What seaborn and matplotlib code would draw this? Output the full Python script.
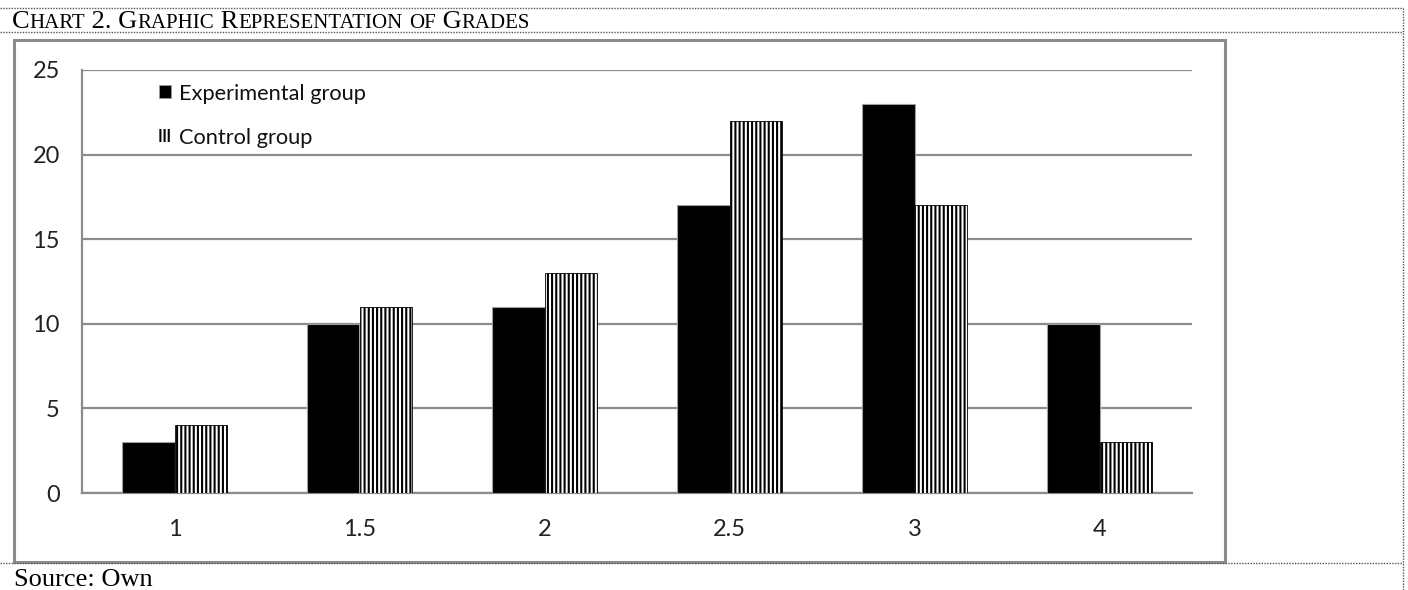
import matplotlib
matplotlib.use("Agg")
import matplotlib.pyplot as plt
from matplotlib.lines import Line2D
from matplotlib.patches import Rectangle, Patch
import seaborn as sns
import pandas as pd

grades = ["1", "1.5", "2", "2.5", "3", "4"]
experimental = [3, 10, 11, 17, 23, 10]
control = [4, 11, 13, 22, 17, 3]
series_names = ["Experimental group", "Control group"]
y_ticks = [0, 5, 10, 15, 20, 25]

df = pd.DataFrame({
    "grade": grades * 2,
    "count": experimental + control,
    "group": [series_names[0]] * len(grades) + [series_names[1]] * len(grades),
})

sns.set_theme(style="white")
plt.rcParams["font.family"] = ["Lato", "DejaVu Sans"]
plt.rcParams["hatch.linewidth"] = 1.5
plt.rcParams["hatch.color"] = "black"

W, H = 1408, 590
fig = plt.figure(figsize=(W / 100, H / 100), dpi=100)
fig.patch.set_facecolor("white")

def fx(px):
    return px / W

def fy(py):
    return 1 - py / H

ax = fig.add_axes([fx(82), fy(493), fx(1192) - fx(82), fy(70) - fy(493)])

grey = "#8c8c8c"
sns.barplot(data=df, x="grade", y="count", hue="group", order=grades,
            hue_order=series_names, palette=["black", "white"],
            width=0.57, gap=0, edgecolor="#a0a0a0", linewidth=0.8,
            errorbar=None, ax=ax, zorder=3, legend=False)

# vertical-stripe fill for the control group
for bar in ax.containers[1]:
    bar.set_hatch("||||")
    bar.set_edgecolor("black")
    bar.set_linewidth(0.6)

ax.set_xlim(-0.5, len(grades) - 0.5)
ax.set_ylim(0, 25)
ax.set_yticks(y_ticks)
ax.set_yticklabels([str(v) for v in y_ticks])
ax.set_xticks(range(len(grades)))
ax.set_xticklabels(grades)
ax.set_xticks([i - 0.5 for i in range(len(grades) + 1)], minor=True)
ax.tick_params(axis="x", which="major", length=0, pad=19, labelsize=17,
               labelcolor="#222222")
ax.tick_params(axis="x", which="minor", length=7, width=2, color=grey,
               direction="out")
ax.tick_params(axis="y", which="major", length=5, width=2, color=grey,
               direction="out", pad=11, labelsize=17, labelcolor="#222222")
ax.set_xlabel("")
ax.set_ylabel("")
ax.grid(axis="y", color=grey, linewidth=1.6, zorder=0)
ax.set_axisbelow(True)
for s in ["top", "right"]:
    ax.spines[s].set_visible(False)
for s in ["left", "bottom"]:
    ax.spines[s].set_color(grey)
    ax.spines[s].set_linewidth(1.6)

handles = [
    Patch(facecolor="black", edgecolor="#a0a0a0", linewidth=0.5),
    Patch(facecolor="white", edgecolor="black", linewidth=0.0, hatch="||||"),
]
leg = ax.legend(handles, series_names, loc="upper left",
                bbox_to_anchor=((159 - 82) / (1192 - 82), 0.968),
                frameon=False, fontsize=15.7, handlelength=0.55,
                handleheight=0.55, handletextpad=0.35, labelspacing=1.1,
                borderpad=0, borderaxespad=0)
for t in leg.get_texts():
    t.set_color("#111111")

# outer chart frame
fig.patches.append(Rectangle((fx(14), fy(562)), fx(1225) - fx(14),
                             fy(40) - fy(562), transform=fig.transFigure,
                             fill=False, edgecolor=grey, linewidth=2.2))

# dotted table rules
dot = dict(color="#555555", linestyle=(0, (1, 1)), linewidth=1.0,
           transform=fig.transFigure)
for py in (8, 32, 563):
    fig.lines.append(Line2D([0, fx(1403)], [fy(py), fy(py)], **dot))
fig.lines.append(Line2D([fx(1403), fx(1403)], [fy(8), 0], **dot))

# small-caps caption
serif = ["Liberation Serif", "DejaVu Serif"]
renderer = fig.canvas.get_renderer()

def small_caps(text, x, y, big=19, small=15):
    cur = x
    runs = []
    for ch in text:
        is_big = not ch.isalpha() or ch.isupper()
        if runs and runs[-1][1] == is_big:
            runs[-1][0] += ch
        else:
            runs.append([ch, is_big])
    for s, is_big in runs:
        txt = s if is_big else s.upper()
        t = fig.text(cur, y, txt, fontsize=big if is_big else small,
                     family=serif, color="black", va="baseline", ha="left")
        bb = t.get_window_extent(renderer=renderer)
        cur += bb.width / W

small_caps("Chart 2. Graphic Representation of Grades", fx(12), fy(28))
fig.text(fx(14), fy(586), "Source: Own", fontsize=19, family=serif,
         color="black", va="baseline", ha="left")

fig.savefig("out.png", dpi=100, facecolor="white")
